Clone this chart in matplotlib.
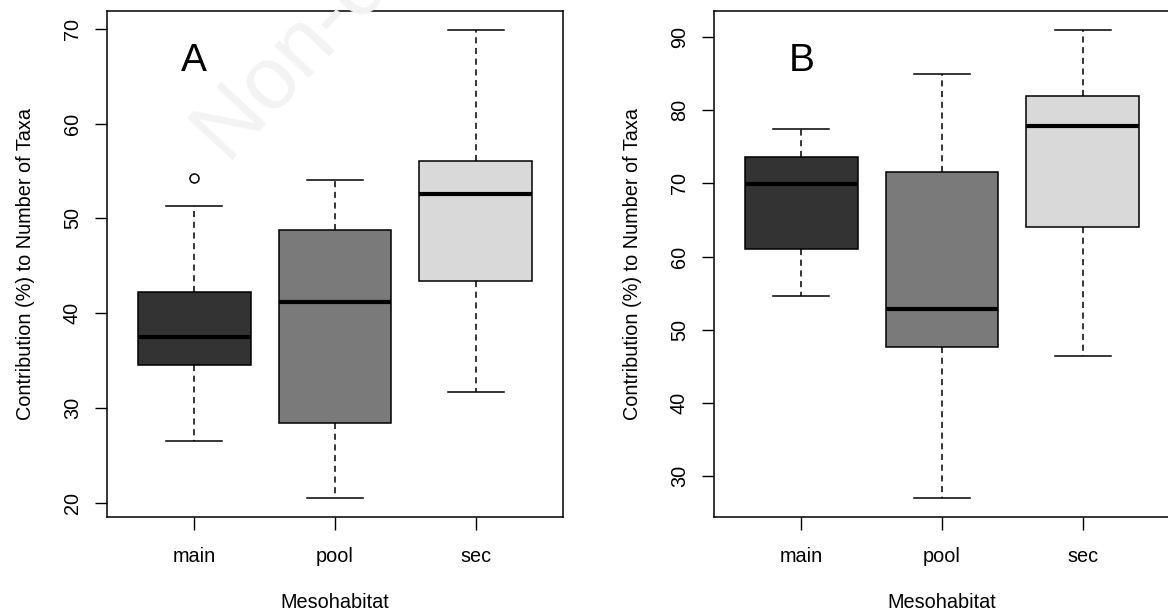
import matplotlib.pyplot as plt

plt.rcParams['font.family'] = ['Liberation Sans', 'DejaVu Sans']

# mesohabitat categories and box colours
categories = ['main', 'pool', 'sec']
fills = ['#333333', '#7a7a7a', '#d9d9d9']

# panel A: whisker low, Q1, median, Q3, whisker high, outliers
a_low = [26.5, 20.5, 31.7]
a_q1 = [34.5, 28.4, 43.4]
a_med = [37.5, 41.2, 52.6]
a_q3 = [42.2, 48.8, 56.1]
a_high = [51.3, 54.1, 69.9]
a_out = [[54.3], [], []]
a_ticks = [20, 30, 40, 50, 60, 70]

# panel B
b_low = [54.6, 27.0, 46.4]
b_q1 = [61.0, 47.7, 64.0]
b_med = [69.9, 52.9, 77.8]
b_q3 = [73.6, 71.6, 82.0]
b_high = [77.5, 85.0, 91.0]
b_out = [[], [], []]
b_ticks = [30, 40, 50, 60, 70, 80, 90]


def make_stats(low, q1, med, q3, high, out):
    stats = []
    for i in range(len(categories)):
        stats.append(dict(whislo=low[i], q1=q1[i], med=med[i], q3=q3[i],
                          whishi=high[i], fliers=out[i], label=categories[i]))
    return stats


def draw_panel(ax, stats, ticks, letter, letter_y):
    res = ax.bxp(stats, positions=[1, 2, 3], widths=0.8, capwidths=0.4,
                 patch_artist=True,
                 boxprops=dict(edgecolor='black', linewidth=1.1),
                 whiskerprops=dict(linestyle=(0, (4, 3)), linewidth=1.1),
                 capprops=dict(linewidth=1.1),
                 medianprops=dict(color='black', linewidth=3),
                 flierprops=dict(marker='o', markerfacecolor='none',
                                 markeredgecolor='black', markersize=6.5,
                                 markeredgewidth=1.1))
    for box, c in zip(res['boxes'], fills):
        box.set_facecolor(c)

    # R style limits: data range plus 4 %
    lo = min(s['whislo'] for s in stats)
    hi = max(max([s['whishi']] + list(s['fliers'])) for s in stats)
    pad = (hi - lo) * 0.04
    ax.set_ylim(lo - pad, hi + pad)
    ax.set_xlim(0.38, 3.62)

    ax.set_yticks(ticks)
    ax.set_yticklabels([str(t) for t in ticks], rotation=90, va='center')
    ax.tick_params(direction='out', length=9, width=1, labelsize=14.3,
                   pad=9)
    ax.tick_params(axis='x', pad=13)
    for sp in ax.spines.values():
        sp.set_linewidth(1.1)

    ax.set_xlabel('Mesohabitat', fontsize=14.3, labelpad=19.5)
    ax.set_ylabel('Contribution (%) to Number of Taxa', fontsize=14.3,
                  labelpad=20)
    ax.text(1, letter_y, letter, fontsize=28, ha='center', va='center')


fig = plt.figure(figsize=(11.68, 6.13), dpi=100)

# faint watermark behind everything
fig.text(0.195, 0.731, 'Non-commercial use only', fontsize=64,
         color='#f3f3f3', rotation=47, rotation_mode='anchor',
         ha='left', va='baseline', zorder=0)

ax1 = fig.add_axes([0.0916, 0.157, 0.3904, 0.825])
ax1.patch.set_alpha(0)
draw_panel(ax1, make_stats(a_low, a_q1, a_med, a_q3, a_high, a_out),
           a_ticks, 'A', 66.6)

ax2 = fig.add_axes([0.6113, 0.157, 0.3904, 0.825])
ax2.patch.set_alpha(0)
draw_panel(ax2, make_stats(b_low, b_q1, b_med, b_q3, b_high, b_out),
           b_ticks, 'B', 86.7)

fig.savefig('out.png', dpi=100)
